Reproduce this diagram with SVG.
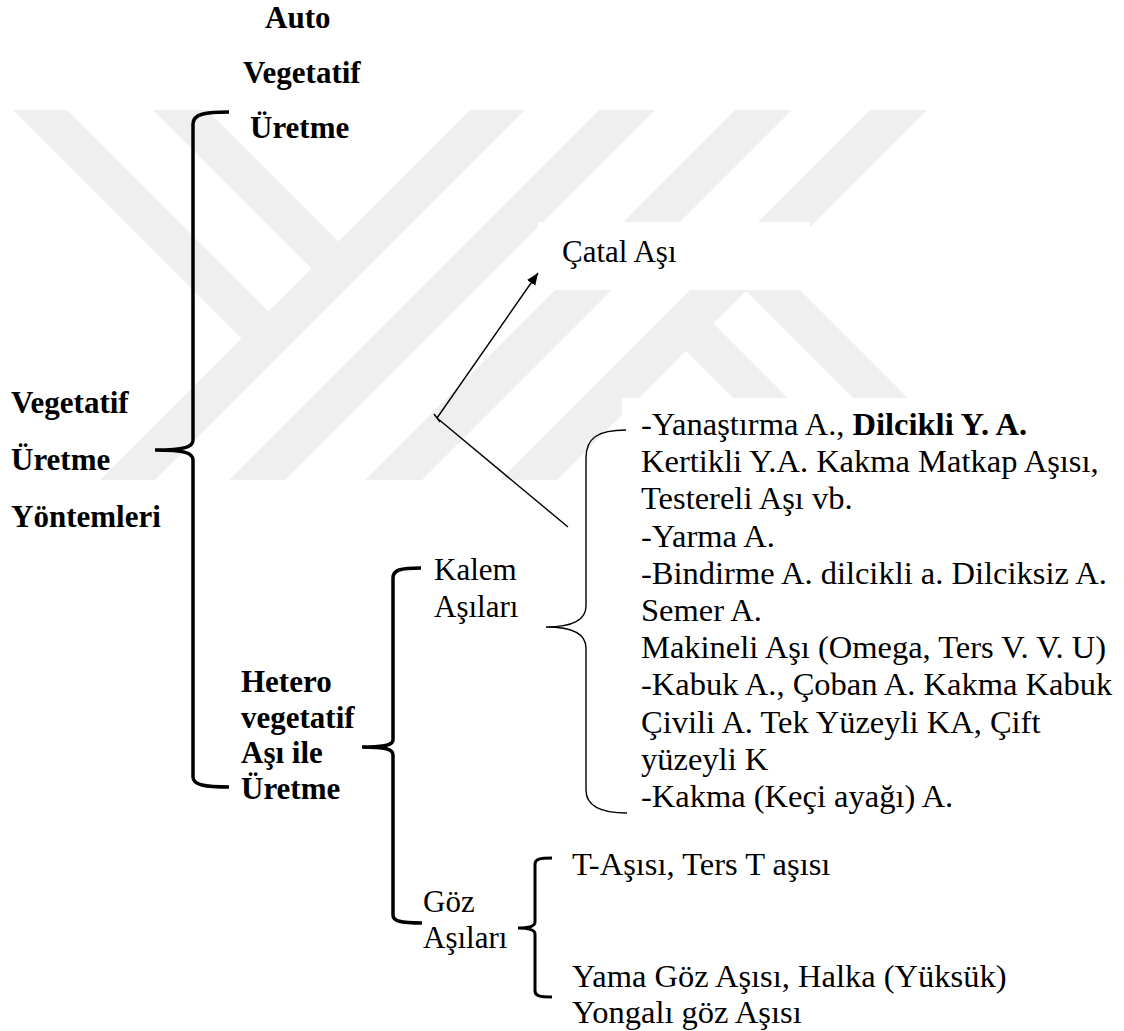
<svg xmlns="http://www.w3.org/2000/svg" width="1124" height="1031" viewBox="0 0 1124 1031">
<style>
text{font-family:'Liberation Serif','Times New Roman','DejaVu Serif',serif;font-size:31px;fill:#000}
.b{font-weight:bold}
.l{font-size:32.5px}
.br{fill:none;stroke:#000;stroke-width:3.5;stroke-linecap:butt}
.bs{fill:none;stroke:#000;stroke-width:1.4}
.wm{fill:#efefef}
.cn{fill:none;stroke:#000;stroke-width:1.4}
</style>
<defs>
<marker id="ah" markerUnits="userSpaceOnUse" markerWidth="14" markerHeight="12" refX="12" refY="5" orient="auto">
<path d="M0,0 L12,5 L0,10 z" fill="#000"/>
</marker>
<clipPath id="wc"><rect x="0" y="110" width="1124" height="370"/></clipPath>
</defs>
<rect width="1124" height="1031" fill="#fff"/>
<g id="watermark" clip-path="url(#wc)">
<polygon class="wm" points="13,110 67,110 268.5,311.5 241.5,338.5"/>
<polygon class="wm" points="153,110 207,110 338.5,241.5 311.5,268.5"/>
<polygon class="wm" points="470,110 525,110 155,480 100,480"/>
<polygon class="wm" points="599,110 655,110 285,480 229,480"/>
<polygon class="wm" points="735,110 792,110 422,480 365,480"/>
<polygon class="wm" points="870,110 927,110 557,480 500,480"/>
<polygon class="wm" points="686,351 713.5,323.5 870,480 815,480"/>
<polygon class="wm" points="746,291 773.5,263.5 990,480 935,480"/>
</g>
<rect x="538" y="222" width="272" height="68" fill="#fff"/>
<rect x="622" y="398" width="502" height="422" fill="#fff"/>
<g id="brackets">
<path id="br-main" class="br" d="M229,112 C205,112 193,114 193,124 L193,440 C193,447 185,450 155,450 C185,450 193,453 193,460 L193,777 C193,785 205,787 229,787"/>
<path id="br-hetero" class="br" d="M421,568 C400,568 393,570 393,578 L393,740 C393,745 385,747 362,747 C385,747 393,749 393,755 L393,915 C393,921 400,923 422,923"/>
<path id="br-goz" class="br" style="stroke-width:3" d="M552,858 C540,858 535,859 535,864 L535,922 C535,926 530,928 518,928 C530,928 535,930 535,934 L535,991 C535,996 540,997 552,997"/>
<path id="br-kalem" class="bs" d="M626,430 C598,430 586,438 586,458 L586,606 C586,620 572,627 546,627 C572,627 586,634 586,648 L586,790 C586,806 600,813 627,813"/>
</g>
<g id="connectors">
<line class="cn" x1="437" y1="418" x2="538" y2="273" marker-end="url(#ah)"/>
<line class="cn" x1="437" y1="418" x2="568" y2="527"/>
<line class="cn" x1="434" y1="414" x2="440" y2="422"/>
</g>
<g id="node-auto">
<text class="b" x="265" y="28">Auto</text>
<text class="b" x="243" y="83">Vegetatif</text>
<text class="b" x="250" y="138">Üretme</text>
</g>
<g id="node-root">
<text class="b" x="11" y="413">Vegetatif</text>
<text class="b" x="11" y="470">Üretme</text>
<text class="b" x="11" y="527">Yöntemleri</text>
</g>
<g id="node-catal">
<text x="562" y="262">Çatal Aşı</text>
</g>
<g id="node-hetero">
<text class="b" x="241" y="692">Hetero</text>
<text class="b" x="241" y="728">vegetatif</text>
<text class="b" x="241" y="763">Aşı ile</text>
<text class="b" x="241" y="799">Üretme</text>
</g>
<g id="node-kalem">
<text x="434" y="580">Kalem</text>
<text x="434" y="617">Aşıları</text>
</g>
<g id="node-kalem-list">
<text class="l" x="641" y="435">-Yanaştırma A., <tspan class="b">Dilcikli Y. A.</tspan></text>
<text class="l" x="641" y="472.2">Kertikli Y.A. Kakma Matkap Aşısı,</text>
<text class="l" x="641" y="509.4">Testereli Aşı vb.</text>
<text class="l" x="641" y="546.6">-Yarma A.</text>
<text class="l" x="641" y="583.8">-Bindirme A. dilcikli a. Dilciksiz A.</text>
<text class="l" x="641" y="621">Semer A.</text>
<text class="l" x="641" y="658.2">Makineli Aşı (Omega, Ters V. V. U)</text>
<text class="l" x="641" y="695.4">-Kabuk A., Çoban A. Kakma Kabuk</text>
<text class="l" x="641" y="732.6">Çivili A. Tek Yüzeyli KA, Çift</text>
<text class="l" x="641" y="769.8">yüzeyli K</text>
<text class="l" x="641" y="807">-Kakma (Keçi ayağı) A.</text>
</g>
<g id="node-goz">
<text x="423" y="912">Göz</text>
<text x="423" y="948">Aşıları</text>
</g>
<g id="node-goz-list">
<text class="l" x="572" y="875">T-Aşısı, Ters T aşısı</text>
<text class="l" x="572" y="987">Yama Göz Aşısı, Halka (Yüksük)</text>
<text class="l" x="572" y="1023">Yongalı göz Aşısı</text>
</g>
</svg>
